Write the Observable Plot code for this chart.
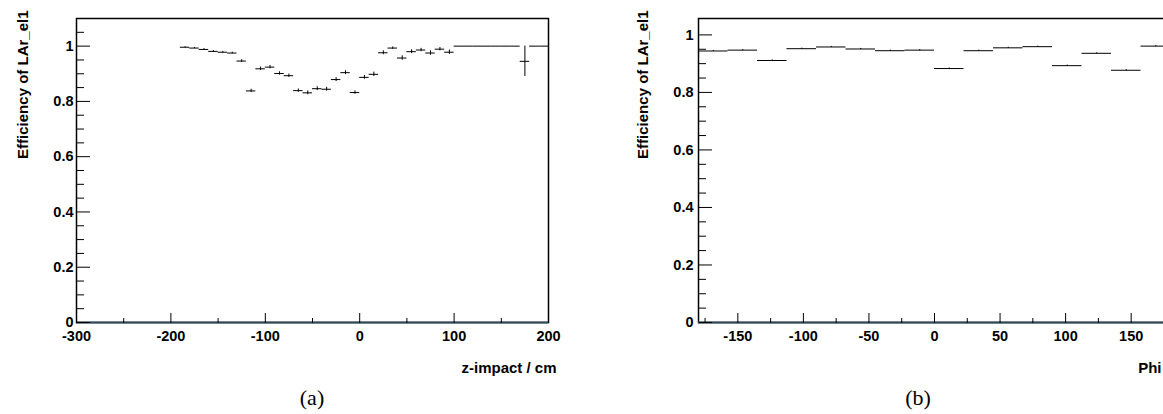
<!DOCTYPE html>
<html><head><meta charset="utf-8">
<script src="https://cdn.jsdelivr.net/npm/d3@7"></script>
<script src="https://cdn.jsdelivr.net/npm/@observablehq/plot@0.6"></script>
<style>
html,body{margin:0;padding:0;background:#fff;width:1163px;height:414px;overflow:hidden;}
#wrap{position:relative;width:1163px;height:414px;overflow:hidden;}
.panel{position:absolute;top:0;}
.cap{position:absolute;top:385px;font-family:"Liberation Serif","DejaVu Serif",serif;font-size:22px;transform:translateX(-50%);color:#000;}
</style></head><body><div id="wrap"></div>
<script>
// Panel (a): efficiency vs z-impact (bin centres, cm)
const zCenters = [-185,-175,-165,-155,-145,-135,-125,-115,-105,-95,-85,-75,-65,-55,-45,-35,-25,-15,-5,5,15,25,35,45,55,65,75,85,95,105,115,125,135,145,155,165,175,185,195];
const zEff = [0.996,0.993,0.988,0.981,0.978,0.975,0.946,0.838,0.918,0.924,0.901,0.893,0.839,0.831,0.846,0.844,0.879,0.904,0.832,0.887,0.898,0.976,0.993,0.957,0.980,0.986,0.975,0.989,0.978,1,1,1,1,1,1,1,0.945,1,1];
const zErr = [0.002,0.002,0.003,0.003,0.003,0.003,0.005,0.006,0.006,0.006,0.006,0.006,0.006,0.007,0.007,0.007,0.007,0.007,0.006,0.007,0.008,0.007,0.004,0.008,0.007,0.006,0.008,0.006,0.008,0,0,0,0,0,0,0,0.055,0,0];
const zBinWidth = 10;
const zMajor = [-300,-200,-100,0,100,200];
const zMinor = [-250,-150,-50,50,150];

// Panel (b): efficiency vs Phi (bin centres, degrees)
const phiCenters = [-168.75,-146.25,-123.75,-101.25,-78.75,-56.25,-33.75,-11.25,11.25,33.75,56.25,78.75,101.25,123.75,146.25,168.75];
const phiEff = [0.944,0.947,0.911,0.952,0.958,0.951,0.945,0.947,0.883,0.945,0.955,0.959,0.893,0.936,0.877,0.961];
const phiErr = [0.002,0.002,0.002,0.002,0.002,0.002,0.002,0.002,0.002,0.002,0.002,0.002,0.002,0.002,0.002,0.002];
const phiBinWidth = 22.5;
const phiMajor = [-150,-100,-50,0,50,100,150];
const phiMinor = [-175,-125,-75,-25,25,75,125,175];

const yMajor = [0,0.2,0.4,0.6,0.8,1];
const yMinorA = [0.05,0.1,0.15,0.25,0.3,0.35,0.45,0.5,0.55,0.65,0.7,0.75,0.85,0.9,0.95,1.05];
const yMinorB = [0.05,0.1,0.15,0.25,0.3,0.35,0.45,0.5,0.55,0.65,0.7,0.75,0.85,0.9,0.95];

const yTitle = "Efficiency of LAr_el1";
const font = "'Liberation Sans', Arial, Helvetica, sans-serif";

function panel(o) {
  const data = o.centers.map((c, i) => ({x: c, x1: c - o.binWidth / 2, x2: c + o.binWidth / 2, y: o.eff[i], lo: o.eff[i] - o.err[i], hi: o.eff[i] + o.err[i], err: o.err[i]}));
  return Plot.plot({
    width: o.width, height: 390,
    marginLeft: o.marginLeft, marginRight: o.marginRight, marginTop: 18, marginBottom: 68,
    style: {fontFamily: font, fontSize: "14.5px", fontWeight: "bold", color: "black", background: "transparent", overflow: "visible"},
    x: {domain: o.xDomain, axis: null},
    y: {domain: o.yDomain, axis: null},
    marks: [
      Plot.ruleY(data, {x1: "x1", x2: "x2", y: "y", stroke: "black", strokeWidth: 1}),
      Plot.ruleX(data.filter(d => d.err > 0), {x: "x", y1: "lo", y2: "hi", stroke: "black", strokeWidth: 1}),
      Plot.frame({stroke: "black", strokeWidth: 1.5}),
      Plot.ruleY([0], {stroke: "#2f4b5c", strokeWidth: 2}),
      Plot.axisY(yMajor, {anchor: "right", frameAnchor: "left", tickSize: 13, fill: "none", label: null, stroke: "black"}),
      Plot.axisY(o.yMinor, {anchor: "right", frameAnchor: "left", tickSize: 7, fill: "none", label: null, stroke: "black"}),
      Plot.axisY(yMajor, {anchor: "left", tickSize: 0, tickPadding: o.yPad, tickFormat: d => String(d), label: null, fill: "black"}),
      Plot.axisX(o.xMajor, {anchor: "top", frameAnchor: "bottom", tickSize: 10, fill: "none", label: null, stroke: "black"}),
      Plot.axisX(o.xMinor, {anchor: "top", frameAnchor: "bottom", tickSize: 5, fill: "none", label: null, stroke: "black"}),
      Plot.axisX(o.xMajor, {anchor: "bottom", tickSize: 0, tickPadding: 8, tickFormat: d => String(d), label: null, fill: "black"}),
      Plot.text([yTitle], {frameAnchor: "top-left", rotate: -90, textAnchor: "end", dx: o.yTitleDx, dy: -8, fontSize: 15, fontWeight: "bold"}),
      Plot.text([o.xTitle], {frameAnchor: "bottom-right", textAnchor: "end", dx: o.xTitleDx, dy: 50, fontSize: 15, fontWeight: "bold"})
    ]
  });
}

const wrap = document.getElementById("wrap");

const a = panel({width: 590, marginLeft: 76, marginRight: 42, xDomain: [-300, 200], yDomain: [0, 1.1],
  centers: zCenters, eff: zEff, err: zErr, binWidth: zBinWidth, xMajor: zMajor, xMinor: zMinor,
  yMinor: yMinorA, yPad: 3, yTitleDx: -59, xTitle: "z-impact / cm", xTitleDx: 8});
a.classList.add("panel"); a.style.left = "0px";
wrap.appendChild(a);

const b = panel({width: 600, marginLeft: 108, marginRight: 20, xDomain: [-180, 180], yDomain: [0, 1.057],
  centers: phiCenters, eff: phiEff, err: phiErr, binWidth: phiBinWidth, xMajor: phiMajor, xMinor: phiMinor,
  yMinor: yMinorB, yPad: 5, yTitleDx: -61, xTitle: "Phi", xTitleDx: -9});
b.classList.add("panel"); b.style.left = "590px";
wrap.appendChild(b);

for (const [t, x] of [["(a)", 312], ["(b)", 918]]) {
  const d = document.createElement("div");
  d.className = "cap"; d.textContent = t; d.style.left = x + "px";
  wrap.appendChild(d);
}
</script>
</body></html>
